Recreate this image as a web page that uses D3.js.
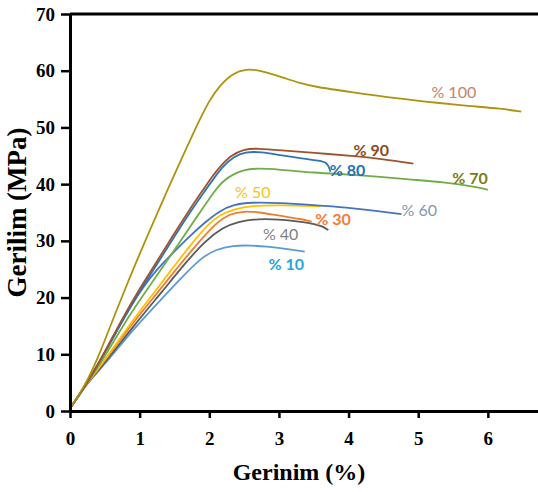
<!DOCTYPE html>
<html>
<head>
<meta charset="utf-8">
<script src="https://cdn.jsdelivr.net/npm/d3@7"></script>
<style>
  html, body { margin: 0; padding: 0; background: #fff; }
</style>
</head>
<body>
<div id="chart"></div>
<script>
// stress-strain curves, [strain %, stress MPa]
const curve10 = [[0.02,0.8],[0.25,5],[0.5,8.2],[0.9,14.3],[1.25,18.9],[1.6,23.5],[1.89,27.1],[2.1,28.5],[2.34,29.2],[2.6,29.2],[2.82,29.0],[3.1,28.6],[3.37,28.1]];
const curve40 = [[0.02,0.8],[0.25,5],[0.5,8.5],[0.9,14.8],[1.34,21.3],[1.65,26],[1.94,30],[2.2,32.4],[2.41,33.4],[2.7,33.9],[3.0,33.8],[3.3,33.4],[3.5,33.0],[3.62,32.6],[3.71,31.9]];
const curve30 = [[0.02,0.8],[0.25,5],[0.5,8.9],[0.9,15.5],[1.28,21.2],[1.55,25.4],[1.85,29.8],[2.1,33.2],[2.3,34.8],[2.5,35.2],[2.7,35.1],[3.01,34.4],[3.3,33.9],[3.47,33.4]];
const curve50 = [[0.02,0.8],[0.25,5],[0.5,9.0],[0.9,16],[1.24,21.4],[1.5,25.6],[1.79,30.2],[2.0,33.1],[2.15,34.6],[2.37,35.6],[2.6,36.2],[3.0,36.3],[3.6,36.1]];
const curve60 = [[0.02,0.8],[0.25,5],[0.5,10.2],[0.8,17.0],[1.03,21.6],[1.25,25],[1.48,27.9],[1.7,30.6],[1.94,33.3],[2.15,35.3],[2.35,36.4],[2.6,36.8],[3.01,36.7],[3.5,36.3],[3.97,35.9],[4.4,35.3],[4.76,34.7]];
const curve70 = [[0.02,0.8],[0.25,5],[0.5,9.6],[0.8,15.9],[1.1,21.3],[1.4,26.6],[1.6,30.2],[1.82,34.2],[2.08,38.9],[2.2,40.6],[2.35,41.8],[2.5,42.5],[2.63,42.8],[3.01,42.6],[3.5,42.0],[4.0,41.7],[4.45,41.3],[4.9,40.8],[5.4,40.3],[5.8,39.6],[6.0,39.0]];
const curve80 = [[0.02,0.8],[0.25,5],[0.5,10.3],[0.77,16.3],[1.02,21.5],[1.22,25.3],[1.47,30.2],[1.72,35],[1.92,38.5],[2.07,41.1],[2.2,43.2],[2.35,44.8],[2.51,45.7],[2.75,45.7],[3.01,45.1],[3.3,44.6],[3.6,44.1],[3.68,43.8],[3.72,43],[3.74,42.2]];
const curve90 = [[0.02,0.8],[0.25,5],[0.5,10.4],[0.75,16.3],[1.0,21.6],[1.2,25.4],[1.45,30.4],[1.7,35.2],[1.9,38.8],[2.05,41.5],[2.15,43],[2.3,45],[2.49,46.2],[2.7,46.3],[3.01,46.0],[3.5,45.5],[4.06,45.0],[4.5,44.4],[4.93,43.6]];
const curve100 = [[0.02,0.8],[0.25,5.2],[0.45,10.8],[0.62,16.3],[0.88,24.2],[1.1,30.6],[1.4,39],[1.79,49.6],[2.0,54.8],[2.15,57.4],[2.34,59.6],[2.53,60.3],[2.7,60.1],[2.82,59.7],[3.06,58.8],[3.3,57.8],[3.54,57.1],[4.0,56.3],[4.7,55.1],[5.3,54.3],[5.7,53.8],[6.2,53.3],[6.48,52.8]];

const SERIES_NAMES = ['% 10', '% 40', '% 30', '% 50', '% 60', '% 70', '% 80', '% 90', '% 100'];
const SERIES_CURVES = [curve10, curve40, curve30, curve50, curve60, curve70, curve80, curve90, curve100];
// where each label sits, [strain, stress]
const LABEL_ANCHORS = [[2.85,24.9],[2.77,30.2],[3.52,32.8],[2.37,37.6],[4.76,34.4],[5.49,40.0],[3.73,41.4],[4.07,45.0],[5.19,55.2]];

const X_TICKS = [0, 1, 2, 3, 4, 5, 6];
const Y_TICKS = [0, 10, 20, 30, 40, 50, 60, 70];
const X_TITLE = 'Gerinim (%)';
const Y_TITLE = 'Gerilim (MPa)';

const WIDTH = 538;
const HEIGHT = 492;
const LEFT = 70;
const TOP = 14;
const BOTTOM = 411;

const LINE_COLORS = ['#5b9bd5', '#5a5a5a', '#ed7d31', '#ffc000', '#4472c4', '#70ad47', '#2e75b6', '#a0522d', '#ad930f'];
const LABEL_COLORS = ['#29a3dc', '#7f7f7f', '#f47b3a', '#f8c21a', '#8497b0', '#7d7c12', '#1f6fb5', '#8b4a1e', '#c0846a'];
const LABEL_WEIGHTS = ['bold', 'normal', 'bold', 'normal', 'normal', 'bold', 'bold', 'bold', 'normal'];

const svg = d3.select('#chart')
  .append('svg')
  .attr('width', WIDTH)
  .attr('height', HEIGHT);

const x = d3.scaleLinear().domain([0, 6.72]).range([LEFT, WIDTH]);
const y = d3.scaleLinear().domain([0, 70]).range([BOTTOM, TOP]);

// top border line
svg.append('line')
  .attr('x1', x(0)).attr('x2', x(6.72))
  .attr('y1', y(70)).attr('y2', y(70))
  .attr('stroke', '#000')
  .attr('stroke-width', 3);

// curves
const line = d3.line()
  .x(d => x(d[0]))
  .y(d => y(d[1]))
  .curve(d3.curveBasis);

svg.append('g')
  .selectAll('path')
  .data(SERIES_CURVES)
  .join('path')
  .attr('d', line)
  .attr('fill', 'none')
  .attr('stroke', (d, i) => LINE_COLORS[i])
  .attr('stroke-width', 1.8)
  .attr('stroke-linejoin', 'round');

// curve labels
svg.append('g')
  .selectAll('text')
  .data(SERIES_NAMES)
  .join('text')
  .attr('x', (d, i) => x(LABEL_ANCHORS[i][0]))
  .attr('y', (d, i) => y(LABEL_ANCHORS[i][1]))
  .attr('fill', (d, i) => LABEL_COLORS[i])
  .style('font-family', 'Lato, "Liberation Sans", sans-serif')
  .style('font-size', '16px')
  .style('font-weight', (d, i) => LABEL_WEIGHTS[i])
  .text(d => d);

// axes
const xAxis = d3.axisBottom(x).tickValues(X_TICKS).tickFormat(d3.format('d'))
  .tickSize(7).tickPadding(14).tickSizeOuter(0);
const yAxis = d3.axisLeft(y).tickValues(Y_TICKS).tickFormat(d3.format('d'))
  .tickSize(9).tickPadding(6).tickSizeOuter(0);

const gx = svg.append('g')
  .attr('transform', `translate(0, ${BOTTOM})`)
  .call(xAxis);
const gy = svg.append('g')
  .attr('transform', `translate(${LEFT}, 0)`)
  .call(yAxis);

[gx, gy].forEach(g => {
  g.select('.domain').attr('stroke-width', 3);
  g.selectAll('.tick line').attr('stroke-width', 2.5);
  g.selectAll('.tick text')
    .attr('fill', '#000')
    .style('font-family', '"Liberation Serif", "Times New Roman", serif')
    .style('font-size', '19px')
    .style('font-weight', 'bold');
});

// axis titles
svg.append('text')
  .attr('x', (x(0) + x(6.72)) / 2 - 5)
  .attr('y', 480)
  .style('font-family', '"Liberation Serif", "Times New Roman", serif')
  .style('font-size', '24px')
  .style('font-weight', 'bold')
  .style('text-anchor', 'middle')
  .text(X_TITLE);

svg.append('text')
  .attr('transform', `translate(26, ${(y(0) + y(70)) / 2}) rotate(-90)`)
  .style('font-family', '"Liberation Serif", "Times New Roman", serif')
  .style('font-size', '27px')
  .style('font-weight', 'bold')
  .style('text-anchor', 'middle')
  .text(Y_TITLE);
</script>
</body>
</html>
